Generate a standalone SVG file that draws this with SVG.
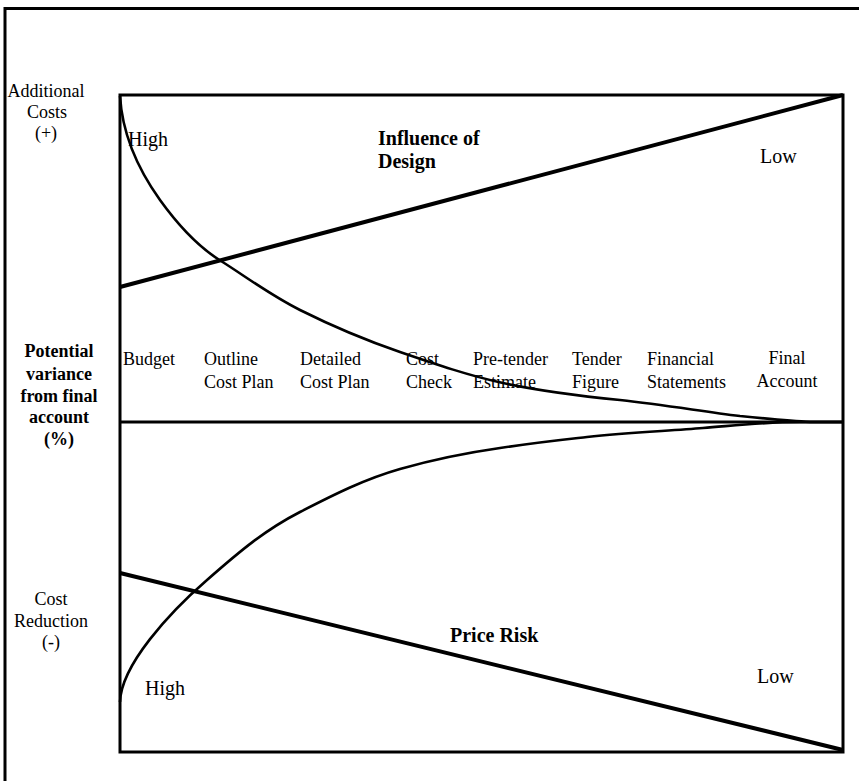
<svg xmlns="http://www.w3.org/2000/svg" width="859" height="781" viewBox="0 0 859 781">
  <style>
    .frame { fill: none; stroke: #000; stroke-width: 3; }
    .line { fill: none; stroke: #000; stroke-width: 4; stroke-linecap: butt; }
    .curve { fill: none; stroke: #000; stroke-width: 2.6; }
    .lbl { font-family: "Liberation Serif", "Times New Roman", serif; font-size: 18px; fill: #000; }
    .big { font-family: "Liberation Serif", "Times New Roman", serif; font-size: 20px; fill: #000; }
    .bold { font-weight: bold; }
    .mid { text-anchor: middle; }
  </style>
  <rect width="859" height="781" fill="#fff"/>

  <!-- outer frame (top and left edges) -->
  <path class="frame" d="M5,781 V8.5 H859"/>

  <!-- chart area -->
  <g id="chart">
    <rect class="frame" x="120" y="95" width="723" height="657"/>
    <line class="frame" x1="120" y1="422" x2="843" y2="422"/>
  </g>

  <g id="connectors">
    <!-- influence of design -->
    <line class="line" x1="120" y1="287" x2="843" y2="95"/>
    <!-- price risk -->
    <line class="line" x1="120" y1="573" x2="843" y2="750"/>
    <!-- additional cost variance curve -->
    <path class="curve" d="M120,96 C122,130 135,165 160,200 C178,225 200,248 221,261 C245,276 270,295 300,310 C330,325 365,340 400,352 C435,364 470,376 503,383 C545,392 580,396 620,400 C665,405 700,411 740,416 C770,419 790,421 810,422 L843,422"/>
    <!-- cost reduction variance curve -->
    <path class="curve" d="M120,702 C121,665 170,612 207,580 C240,551 265,530 300,512 C335,494 365,479 400,469 C435,459 465,453 500,448 C540,442 560,440 587,437 C630,432 670,431 703,428 C740,425 765,422 800,422 L843,422"/>
  </g>

  <!-- axis labels -->
  <g id="axis-top">
    <text class="lbl mid" x="46" y="97">Additional</text>
    <text class="lbl mid" x="47" y="118">Costs</text>
    <text class="lbl mid" x="46" y="139">(+)</text>
  </g>
  <g id="axis-middle">
    <text class="lbl bold mid" x="59" y="357">Potential</text>
    <text class="lbl bold mid" x="59" y="380">variance</text>
    <text class="lbl bold mid" x="59" y="402">from final</text>
    <text class="lbl bold mid" x="59" y="423">account</text>
    <text class="lbl bold mid" x="59" y="445">(%)</text>
  </g>
  <g id="axis-bottom">
    <text class="lbl mid" x="51" y="605">Cost</text>
    <text class="lbl mid" x="51" y="627">Reduction</text>
    <text class="lbl mid" x="51" y="648">(-)</text>
  </g>

  <!-- line labels -->
  <g id="design-labels">
    <text class="big" x="128" y="146">High</text>
    <text class="big bold" x="378" y="145" font-size="21">Influence of</text>
    <text class="big bold" x="378" y="168" font-size="21">Design</text>
    <text class="big" x="760" y="163">Low</text>
  </g>
  <g id="risk-labels">
    <text class="big" x="145" y="695">High</text>
    <text class="big bold" x="450" y="642">Price Risk</text>
    <text class="big" x="757" y="683">Low</text>
  </g>

  <!-- project stages -->
  <g id="stage-budget"><text class="lbl" x="123" y="365">Budget</text></g>
  <g id="stage-outline"><text class="lbl" x="204" y="365">Outline</text><text class="lbl" x="204" y="388">Cost Plan</text></g>
  <g id="stage-detailed"><text class="lbl" x="300" y="365">Detailed</text><text class="lbl" x="300" y="388">Cost Plan</text></g>
  <g id="stage-check"><text class="lbl" x="406" y="365">Cost</text><text class="lbl" x="406" y="388">Check</text></g>
  <g id="stage-pretender"><text class="lbl" x="473" y="365">Pre-tender</text><text class="lbl" x="473" y="388">Estimate</text></g>
  <g id="stage-tender"><text class="lbl" x="572" y="365">Tender</text><text class="lbl" x="572" y="388">Figure</text></g>
  <g id="stage-financial"><text class="lbl" x="647" y="365">Financial</text><text class="lbl" x="647" y="388">Statements</text></g>
  <g id="stage-final"><text class="lbl mid" x="787" y="364">Final</text><text class="lbl mid" x="787" y="387">Account</text></g>
</svg>
